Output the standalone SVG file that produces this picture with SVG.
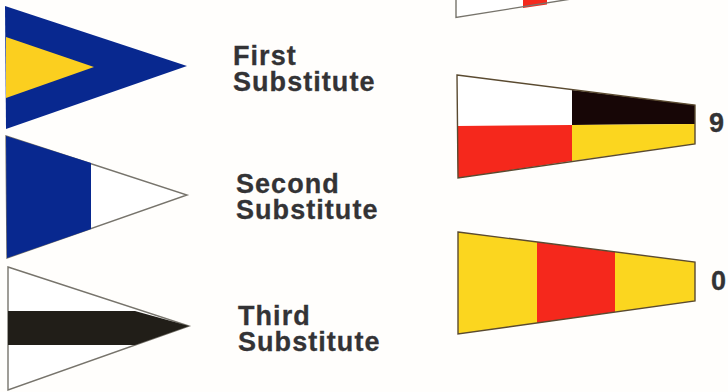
<svg xmlns="http://www.w3.org/2000/svg" width="728" height="392" viewBox="0 0 728 392">
<style>
text{font-family:"Liberation Sans",Arial,sans-serif;font-weight:700;font-size:27px;fill:#333335;stroke:#333335;stroke-width:.3;letter-spacing:1.05px}
.o{fill:#fff;stroke:#77746c;stroke-width:1.4}
.k{fill:none;stroke:#5a4a30;stroke-width:1.4}
</style>
<rect width="728" height="392" fill="#fffefc"/>
<g id="first-substitute">
<polygon points="5,6 187,66 6,129" fill="#08288f"/>
<polygon points="6,37 94,67 6,98" fill="#fbcf1f"/>
<text x="233" y="64.5">First<tspan x="233" y="90.5">Substitute</tspan></text>
</g>
<g id="second-substitute">
<polygon points="6,136 187,195 7,258" class="o"/>
<polygon points="6,136 91,163 91,229 7,258" fill="#08288f"/>
<text x="236" y="193">Second<tspan x="236" y="219">Substitute</tspan></text>
</g>
<g id="third-substitute">
<polygon points="8,267 189,326 8,390" class="o"/>
<polygon points="8,311 135,311 189,326 135,345 8,345" fill="#211e18"/>
<text x="238" y="325">Third<tspan x="238" y="351">Substitute</tspan></text>
</g>
<g id="pennant-top">
<polygon points="456,-1 456,17.5 524,7 590,-4 590,-1" fill="#fff"/>
<polygon points="523,8 547,4.5 547,0 523,0" fill="#f5281c"/>
<path class="k" style="stroke:#77746c" d="M456,0V17.5L590,-4"/>
</g>
<g id="pennant-9">
<polygon points="457,75 572,90 572,125 457,126" fill="#fff"/>
<polygon points="572,90 695,105 695,124 572,125" fill="#170606"/>
<polygon points="457,126 572,125 572,161 458,178" fill="#f5281c"/>
<polygon points="572,125 695,124 695,144 572,161" fill="#fbd61f"/>
<polygon class="k" points="457,75 695,105 695,144 458,178"/>
<text x="709" y="132">9</text>
</g>
<g id="pennant-0">
<polygon points="458,232 537,242 537,323 458,334" fill="#fbd61f"/>
<polygon points="537,242 615,252 615,312 537,323" fill="#f5281c"/>
<polygon points="615,252 695,262 695,301 615,312" fill="#fbd61f"/>
<polygon class="k" points="458,232 695,262 695,301 458,334"/>
<text x="711" y="290">0</text>
</g>
</svg>
